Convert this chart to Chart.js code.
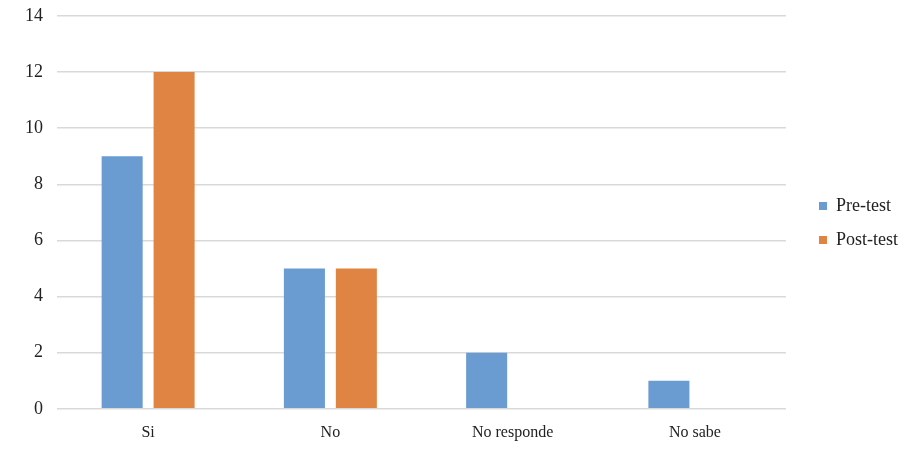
<!DOCTYPE html>
<html><head><meta charset="utf-8">
<script src="https://cdn.jsdelivr.net/npm/chart.js@4"></script>
<style>html,body{margin:0;padding:0;background:#fff}#w{width:906px;height:458px}</style>
</head><body><div id="w"><canvas id="c"></canvas></div>
<script>
const categories = ["Si", "No", "No responde", "No sabe"];
const preTest = [9, 5, 2, 1];
const postTest = [12, 5, 0, 0];
const yTicks = [0, 2, 4, 6, 8, 10, 12, 14];

Chart.defaults.font.family = "'Liberation Serif', 'Times New Roman', serif";
Chart.defaults.font.size = 16;
Chart.defaults.color = '#222';

const legendGap = {
  id: 'legendGap',
  beforeUpdate(chart) {
    const lg = chart.legend;
    if (!lg || lg._gapPatched) return;
    lg._gapPatched = true;
    const fit = lg.fit;
    lg.fit = function () { fit.call(this); this.width += 15; };
    const draw = lg.draw;
    lg.draw = function (...a) {
      this.ctx.save(); this.ctx.translate(17, -9); draw.apply(this, a); this.ctx.restore();
    };
  }
};

new Chart(document.getElementById('c'), {
  type: 'bar',
  data: {
    labels: categories,
    datasets: [
      {label: 'Pre-test', data: preTest, backgroundColor: '#6a9bd1', barPercentage: 0.79, categoryPercentage: 0.57},
      {label: 'Post-test', data: postTest, backgroundColor: '#e08444', barPercentage: 0.79, categoryPercentage: 0.57}
    ]
  },
  plugins: [legendGap],
  options: {
    responsive: true, maintainAspectRatio: false, animation: false,
    layout: {padding: {top: 16, right: 0, left: 22, bottom: 10}},
    plugins: {
      tooltip: {enabled: false},
      legend: {
        position: 'right',
        labels: {boxWidth: 8, boxHeight: 8, padding: 16, font: {size: 18}}
      }
    },
    scales: {
      x: {
        grid: {display: false},
        border: {display: false},
        ticks: {font: {size: 16}, padding: 6}
      },
      y: {
        min: 0, max: 14,
        afterBuildTicks: (s) => { s.ticks = yTicks.map(v => ({value: v})); },
        grid: {color: '#d9d9d9', lineWidth: 1.5, drawTicks: true, tickLength: 11, tickColor: 'rgba(0,0,0,0)'},
        border: {display: false},
        ticks: {padding: 3, font: {size: 18}}
      }
    }
  }
});
</script></body></html>
